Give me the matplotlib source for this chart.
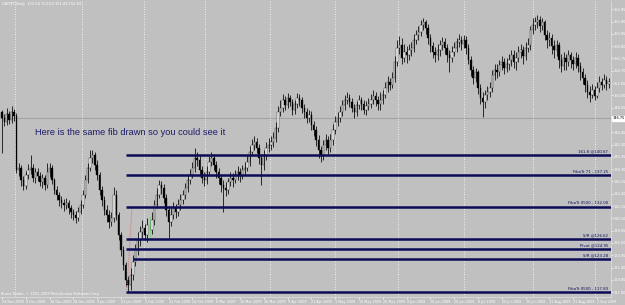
import matplotlib
matplotlib.use("Agg")
import matplotlib.pyplot as plt
import numpy as np

# ---------------- data (GBPJPY daily) ----------------
open_first = 147.83
closes = [
    146.83, 146.17, 147.50, 146.50, 147.83, 147.17, 138.17, 138.50, 136.50, 135.50,
    137.33, 138.17, 138.50, 136.83, 137.83, 137.17, 136.17, 136.83, 135.67, 137.83,
    138.50, 136.50, 134.83, 134.00, 133.17, 132.67, 132.33, 132.67, 131.83, 131.17,
    130.67, 130.17, 131.17, 132.33, 134.00, 136.50, 138.50, 140.17, 140.67, 139.00,
    137.33, 134.83, 133.17, 131.50, 130.67, 129.50, 130.17, 134.00, 130.67, 127.33,
    124.83, 122.33, 119.83, 119.00, 120.67, 122.83, 124.83, 126.50, 127.83, 128.50,
    127.33, 129.00, 128.17, 129.83, 132.33, 134.00, 135.67, 135.17, 133.50, 131.50,
    129.50, 130.67, 131.83, 131.17, 132.33, 133.17, 134.00, 135.17, 136.50, 137.33,
    138.50, 140.17, 139.83, 138.17, 136.83, 136.50, 137.83, 139.50, 140.17, 139.00,
    137.83, 136.83, 135.67, 135.17, 134.83, 136.17, 136.83, 136.50, 137.33, 137.83,
    137.17, 138.17, 138.50, 139.50, 141.17, 142.33, 142.83, 141.83, 140.17, 139.00,
    140.67, 141.83, 142.33, 142.83, 143.50, 145.17, 147.83, 148.50, 149.83, 149.00,
    150.17, 149.50, 148.17, 149.17, 150.17, 149.83, 148.50, 147.83, 146.83, 147.33,
    145.67, 144.83, 143.17, 141.50, 140.67, 142.33, 143.17, 141.83, 143.17, 144.83,
    146.17, 146.83, 147.83, 149.00, 149.83, 150.17, 149.50, 148.50, 147.83, 149.00,
    149.83, 149.17, 148.17, 148.83, 149.17, 149.83, 150.50, 149.83, 149.17, 149.83,
    150.67, 151.83, 152.83, 152.33, 153.50, 156.17, 158.50, 159.00, 156.83, 157.83,
    157.33, 158.17, 158.50, 159.83, 160.67, 161.17, 162.33, 162.83, 161.83, 160.17,
    158.83, 157.83, 157.33, 158.17, 159.00, 159.50, 158.50, 157.33, 156.83, 157.83,
    158.50, 159.50, 159.83, 159.17, 159.83, 158.50, 156.50, 154.83, 153.50, 154.50,
    151.83, 150.17, 149.50, 150.67, 151.17, 151.83, 154.00, 154.83, 154.50, 155.67,
    156.17, 155.17, 155.83, 156.50, 157.33, 156.17, 156.83, 157.83, 158.17, 157.17,
    158.50, 159.00, 161.50, 162.33, 162.83, 163.17, 162.17, 162.83, 160.67, 159.83,
    160.17, 158.83, 158.17, 159.00, 156.50, 155.50, 156.83, 156.17, 157.33, 156.50,
    155.83, 156.83, 155.50, 154.50, 153.50, 152.33, 151.17, 150.67, 151.50, 150.50,
    151.83, 152.83, 152.33, 153.17, 152.50, 152.83,
]
highs = [
    148.17, 147.50, 148.50, 148.00, 148.83, 148.33, 147.67, 139.33, 139.00, 137.17,
    138.00, 139.17, 140.67, 139.17, 138.50, 138.50, 137.83, 137.50, 137.33, 139.33,
    139.33, 139.00, 136.83, 135.50, 134.50, 133.83, 133.33, 133.50, 133.17, 132.33,
    131.67, 131.33, 132.00, 133.17, 134.83, 137.33, 139.33, 141.50, 141.50, 141.17,
    139.83, 137.83, 135.50, 133.83, 132.33, 131.50, 131.17, 135.33, 134.83, 131.17,
    127.83, 125.50, 122.83, 120.50, 121.83, 124.00, 125.83, 127.83, 128.83, 129.83,
    129.17, 130.17, 130.33, 131.17, 133.17, 135.17, 136.50, 136.33, 135.83, 134.17,
    132.17, 131.83, 132.83, 132.50, 133.33, 134.17, 134.83, 136.00, 137.33, 138.33,
    139.50, 141.83, 141.17, 140.67, 138.83, 137.83, 138.83, 140.50, 141.17, 140.83,
    139.67, 138.50, 137.33, 136.50, 136.17, 136.83, 137.83, 137.67, 138.17, 138.83,
    138.50, 139.00, 139.50, 140.67, 142.17, 143.33, 143.83, 143.50, 142.50, 140.83,
    141.50, 142.83, 143.50, 143.83, 144.50, 146.17, 148.83, 149.83, 150.83, 150.50,
    151.00, 150.67, 150.00, 149.83, 151.00, 150.83, 150.33, 149.17, 148.50, 148.17,
    148.00, 146.33, 145.50, 144.00, 142.17, 143.17, 144.17, 143.83, 144.17, 145.83,
    147.17, 147.83, 148.83, 149.83, 150.67, 151.17, 150.83, 150.17, 149.17, 149.67,
    150.67, 150.33, 149.83, 149.67, 150.17, 150.83, 151.50, 151.17, 150.50, 151.17,
    151.50, 152.83, 153.83, 153.50, 154.50, 157.17, 159.83, 160.50, 160.17, 159.17,
    158.83, 159.17, 159.50, 160.83, 161.50, 162.17, 163.17, 163.50, 163.17, 162.50,
    160.83, 159.50, 158.67, 159.17, 159.83, 160.33, 160.17, 159.17, 158.17, 158.83,
    159.50, 160.17, 160.83, 160.50, 160.67, 160.50, 159.17, 157.17, 155.50, 155.17,
    154.83, 152.50, 151.17, 151.50, 152.17, 152.83, 154.83, 155.83, 155.83, 156.50,
    157.17, 156.83, 156.83, 157.50, 158.17, 158.17, 157.83, 158.83, 159.17, 158.83,
    159.50, 160.17, 162.17, 163.50, 163.67, 164.00, 163.83, 163.50, 163.17, 161.50,
    161.17, 160.83, 159.83, 159.83, 159.50, 157.50, 157.83, 157.50, 158.17, 157.83,
    157.17, 157.83, 157.50, 156.17, 155.17, 154.17, 153.17, 152.17, 152.50, 152.17,
    152.83, 153.83, 153.50, 154.17, 153.83, 153.50,
]
lows = [
    141.00, 145.50, 145.67, 145.83, 146.00, 146.33, 137.67, 137.17, 135.50, 134.83,
    135.00, 136.67, 137.50, 136.17, 136.00, 136.33, 135.50, 135.17, 134.83, 135.17,
    137.00, 135.83, 134.17, 133.17, 132.17, 131.83, 131.33, 131.67, 130.83, 130.17,
    129.83, 129.33, 129.67, 130.83, 131.83, 133.50, 136.00, 138.00, 139.33, 138.17,
    136.50, 134.00, 132.17, 130.67, 129.50, 128.50, 128.83, 129.50, 129.83, 126.50,
    123.83, 121.50, 118.83, 117.83, 118.17, 119.83, 122.17, 124.00, 125.50, 126.83,
    126.50, 126.17, 127.00, 127.50, 129.00, 131.83, 133.50, 134.17, 132.67, 130.50,
    126.83, 128.83, 130.00, 130.17, 130.50, 131.50, 132.50, 133.33, 134.50, 135.83,
    136.83, 137.83, 138.83, 137.33, 136.00, 135.50, 135.83, 137.17, 138.83, 138.17,
    136.83, 135.83, 134.50, 131.17, 133.83, 134.17, 135.50, 135.33, 136.00, 136.50,
    136.17, 136.67, 137.33, 138.00, 138.83, 140.50, 141.50, 141.00, 139.17, 135.67,
    138.17, 139.83, 141.17, 141.50, 142.00, 142.83, 144.50, 147.17, 147.83, 148.17,
    148.50, 148.83, 147.33, 147.50, 148.50, 148.83, 147.67, 146.83, 146.00, 146.17,
    144.83, 143.83, 142.17, 140.17, 139.50, 139.83, 141.50, 140.83, 141.17, 142.33,
    144.17, 145.50, 146.17, 147.17, 148.17, 149.17, 148.67, 147.83, 146.83, 147.17,
    148.33, 148.17, 147.50, 147.33, 148.17, 148.50, 149.17, 148.83, 148.17, 148.17,
    149.17, 150.17, 151.17, 151.50, 151.83, 152.83, 155.50, 157.50, 155.83, 156.17,
    156.00, 156.50, 157.17, 157.83, 159.17, 159.83, 160.50, 161.50, 160.83, 159.17,
    157.83, 156.83, 156.17, 156.50, 157.17, 158.17, 157.50, 156.17, 154.50, 156.17,
    157.17, 157.83, 158.67, 158.17, 158.50, 157.50, 155.83, 153.83, 152.50, 152.83,
    150.83, 149.17, 147.00, 148.50, 149.83, 150.33, 151.17, 153.17, 153.50, 153.83,
    154.83, 154.17, 154.50, 154.83, 155.50, 155.17, 154.83, 156.17, 156.83, 155.83,
    156.50, 157.83, 158.17, 160.83, 161.50, 161.83, 161.17, 161.50, 159.83, 158.50,
    158.83, 157.50, 156.83, 157.17, 155.17, 154.50, 154.83, 154.83, 155.50, 155.17,
    154.83, 155.17, 154.50, 153.17, 152.50, 151.17, 150.17, 149.50, 150.17, 149.83,
    150.17, 151.17, 151.50, 151.83, 151.50, 151.83,
]
highlight_bars = [62]   # candle drawn in green in the reference

date_labels = ["24 Nov 2008", "4 Dec 2008", "16 Dec 2008", "28 Dec 2008", "9 Jan 2009",
               "21 Jan 2009", "2 Feb 2009", "12 Feb 2009", "24 Feb 2009", "6 Mar 2009",
               "18 Mar 2009", "30 Mar 2009", "9 Apr 2009", "21 Apr 2009", "1 May 2009",
               "13 May 2009", "25 May 2009", "4 Jun 2009", "16 Jun 2009", "26 Jun 2009",
               "8 Jul 2009", "20 Jul 2009", "30 Jul 2009", "11 Aug 2009", "21 Aug 2009",
               "2 Sep 2009"]
# tick at 146.50 is covered by the price box in the reference
price_ticks = [117.80, 119.85, 121.90, 123.95, 126.00, 128.05, 130.10, 132.15, 134.20,
               136.25, 138.30, 140.35, 142.40, 144.45, 148.55, 150.60, 152.65,
               154.70, 156.75, 158.80, 160.85, 162.90, 164.95]

fib_levels = [140.67, 137.25, 132.00, 126.62, 124.95, 123.28, 117.83]
fib_labels = ["161.8 @140.67", "FiboTr 71 - 137.25", "FiboTr 0500 - 132.00",
              "S/R @126.62", "Pivot @124.95", "S/R @123.28", "FiboTr 0500 - 117.83"]
hline_price = 146.75
annotation = "Here is the same fib drawn so you could see it"
title_text = "GBPJPY,Daily  152.50 153.50 151.83 152.83"
copyright_text = "Bruce Trader, \u00a9 2001-2009 MetaQuotes Software Corp."

# ---------------- figure ----------------
BG = "#c0c0c0"
W, H = 625, 305
fig = plt.figure(figsize=(W / 100, H / 100), dpi=100, facecolor=BG)
ax = fig.add_axes([0, 8 / H, 611 / W, 296 / H])
ax.set_facecolor(BG)

n = len(closes)
xs = np.arange(n)
opens = np.array([open_first] + closes[:-1])
cl = np.array(closes)
hi = np.array(highs)
lo = np.array(lows)

ax.set_xlim(-0.84, 255.9)
ax.set_ylim(117.0, 166.33)

# vertical dotted grid
for gx in [5.5, 33.6, 59.7, 85.3, 112.6, 139.9, 166.4, 194.1, 223.1, 249.2]:
    ax.axvline(gx, color="white", lw=0.6, ls=(0, (1, 2)), zorder=1)

# user horizontal line
ax.axhline(hline_price, color="#a4a4a4", lw=0.8, zorder=1.5)

# candles
wick_colors = ["#70d070" if i in highlight_bars else "black" for i in range(n)]
ax.vlines(xs, lo, hi, colors=wick_colors, lw=0.55, zorder=3)
up = cl >= opens
body_h = np.where(np.abs(cl - opens) < 0.05, 0.08, cl - opens)
face = ["white" if u else "black" for u in up]
edge = ["black"] * n
for i in highlight_bars:
    face[i] = "#90e090"
    edge[i] = "#70d070"
ax.bar(xs, body_h, bottom=opens, width=0.6, color=face, edgecolor=edge,
       linewidth=0.25, zorder=4)

# fib tool dotted red line
ax.plot([54.6, 52.5], [131.83, 118.17], color="#d86a6a", lw=0.7, ls=(0, (1, 1.2)),
        zorder=5)

# fib levels
fib_start = [52.1, 52.1, 52.1, 52.1, 52.1, 55.0, 52.1]
for lvl, lab, xs0 in zip(fib_levels, fib_labels, fib_start):
    ax.hlines(lvl, xs0, 255.9, color="#0c0c58", lw=1.8, zorder=6)
    ax.text(254.6, lvl + 0.25, lab, fontsize=2.8, color="#0c0c58", ha="right",
            va="bottom", zorder=7)

ax.text(13.9, 144.4, annotation, fontsize=6.7, family="Liberation Sans",
        color="#1c1c6a", ha="left", va="center", zorder=7)

# axes styling
for s in ["top", "left"]:
    ax.spines[s].set_visible(False)
for s in ["right", "bottom"]:
    ax.spines[s].set_color("#dcdcdc")
    ax.spines[s].set_linewidth(0.6)

ax.yaxis.tick_right()
ax.set_yticks(price_ticks)
ax.set_yticklabels([f"{p:.2f}" for p in price_ticks])
ax.tick_params(axis="y", colors="white", labelsize=2.5, length=1.2, width=0.5, pad=0.8)

ax.set_xticks(np.arange(0, 10 * len(date_labels), 10))
ax.set_xticklabels(date_labels)
ax.tick_params(axis="x", colors="white", labelsize=2.4, length=1.2, width=0.5, pad=0.8)
for t in ax.get_xticklabels():
    t.set_horizontalalignment("left")

# price box for horizontal line
ax.annotate(f"{hline_price:.2f}", xy=(1.0, hline_price), xycoords=("axes fraction", "data"),
            xytext=(1.2, 0), textcoords="offset points", fontsize=2.5, color="black",
            va="center", ha="left",
            bbox=dict(boxstyle="square,pad=0.12", fc="white", ec="white"),
            annotation_clip=False, zorder=8)

fig.text(2 / W, 1 - 4 / H, title_text, fontsize=2.6, color="white", ha="left", va="center")
ax.text(-0.4, 117.55, copyright_text, fontsize=2.5, color="white",
        ha="left", va="center", zorder=7)

fig.savefig("out.png", dpi=100, facecolor=BG)
